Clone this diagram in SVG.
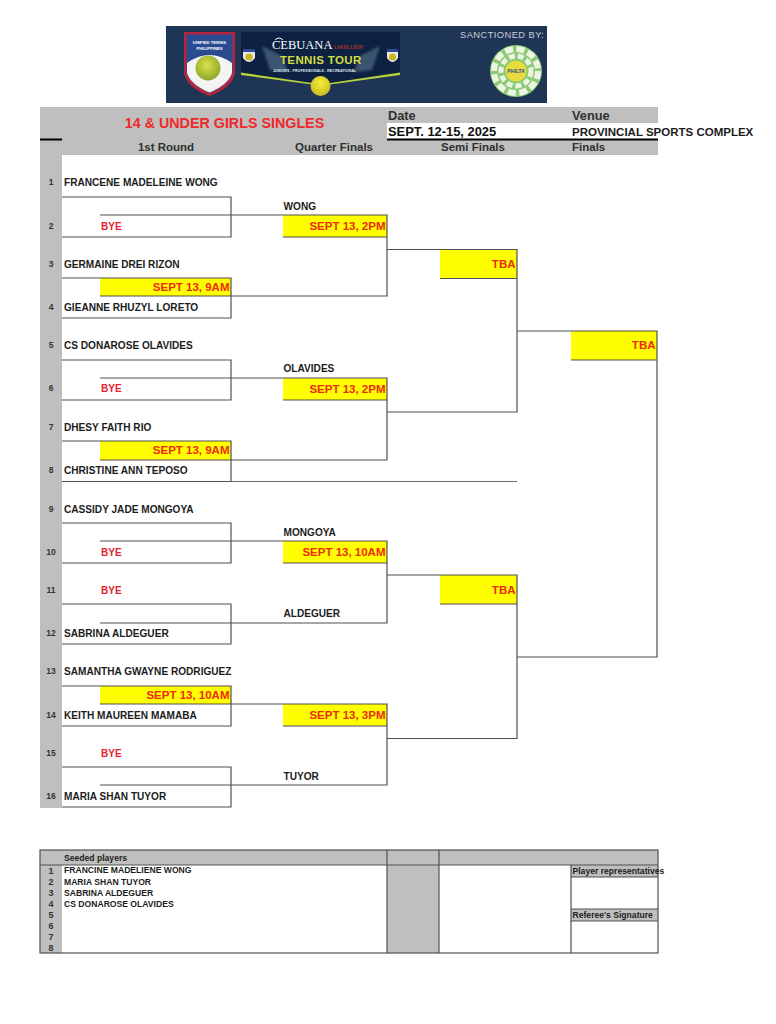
<svg xmlns="http://www.w3.org/2000/svg" width="776" height="1024" viewBox="0 0 776 1024">
<defs>
<radialGradient id="ball" cx="45%" cy="40%" r="60%"><stop offset="0" stop-color="#d8e24a"/><stop offset="1" stop-color="#8fa82a"/></radialGradient>
<radialGradient id="ball2" cx="50%" cy="35%" r="65%"><stop offset="0" stop-color="#f4ee3c"/><stop offset="1" stop-color="#c9b81e"/></radialGradient>
<filter id="soft" x="-5%" y="-5%" width="110%" height="110%"><feGaussianBlur stdDeviation="0.45"/></filter>
<filter id="soft2" x="-20%" y="-20%" width="140%" height="140%"><feGaussianBlur stdDeviation="1.2"/></filter>
</defs>
<style>
text{font-family:"Liberation Sans",Arial,sans-serif;font-weight:bold}
.g{fill:#bfbfbf}
.y{fill:#ffff00}
.ln{fill:none;stroke:#505050;stroke-width:1.2}
.thin{fill:none;stroke:#6a6a6a;stroke-width:1}
.n{font-size:8.5px;fill:#333;text-anchor:middle}
.p{font-size:10.1px;fill:#1c1c1c}
.bye{font-size:10px;fill:#e6202e}
.t{font-size:11.5px;fill:#ee2a12;text-anchor:end}
.h{font-size:11.500px;fill:#303030}
.hm{font-size:11.500px;fill:#303030;text-anchor:middle}
.s{font-size:8.600px;fill:#1c1c1c}
.sn{font-size:9px;fill:#333;text-anchor:middle}
</style>
<rect width="776" height="1024" fill="#fff"/>

<g id="banner">
<rect x="166" y="26" width="381" height="77" fill="#1f3556"/>
<g filter="url(#soft)">
<path d="M184 32H235V74Q231 88 209.500 96Q188 88 184 74Z" fill="#b3283c"/>
<path d="M186.500 34.500H232.500V73Q228 85 209.500 93Q191 85 186.500 73Z" fill="#2a4b92"/>
<path d="M187 63Q209.500 47 232 63V73Q228 85 209.500 92.500Q191 85 187 73Z" fill="#f4f4f4"/>
<circle cx="208" cy="68" r="12.500" fill="url(#ball)"/>
<path d="M241 32H400V73L330 84H312L241 73Z" fill="#0f2342"/>
<g filter="url(#soft2)" fill="#3a5470">
<path d="M262 46L282 56L288 72L270 70Z"/>
<path d="M380 46L360 56L354 72L372 70Z"/>
</g>
<path d="M241 72.500L312 83V84.500L241 75Z" fill="#b7d13c"/>
<path d="M400 72.500L330 83V84.500L400 75Z" fill="#b7d13c"/>
<path d="M243 49H255V58Q249 66 243 58Z" fill="#e7e7e7"/>
<path d="M387 49H398V58Q392.500 66 387 58Z" fill="#e7e7e7"/>
<path d="M243 49H255V52H243ZM387 49H398V52H387Z" fill="#2a4b92"/>
<circle cx="249" cy="57" r="3.500" fill="#c9b81e"/>
<circle cx="392.500" cy="57" r="3.500" fill="#c9b81e"/>
<circle cx="320.500" cy="86" r="10" fill="url(#ball2)"/>
<circle cx="516" cy="71" r="26" fill="#8ccb74"/>
<circle cx="516" cy="71" r="22" fill="none" stroke="#eef4e4" stroke-width="6" stroke-dasharray="8 3.500"/>
<circle cx="516" cy="71" r="15" fill="none" stroke="#eef4e4" stroke-width="5" stroke-dasharray="6 3"/>
<circle cx="516" cy="71" r="10.500" fill="#e8dc3c"/>
<path d="M275 40Q279 36 283 40" fill="none" stroke="#fff" stroke-width="1"/>
</g>
<text x="209.500" y="44" font-size="4.200" fill="#fff" text-anchor="middle">UNIFIED TENNIS</text>
<text x="209.500" y="49.500" font-size="4.200" fill="#fff" text-anchor="middle">PHILIPPINES</text>
<text x="272" y="49" font-size="12.500" fill="#fff" style="font-family:'Liberation Serif',serif;font-weight:normal">CEBUANA</text>
<text x="334" y="48.500" font-size="5.500" fill="#a8322c">LHUILLIER</text>
<text x="280" y="64" font-size="11.500" fill="#d3dd3e" letter-spacing=".35">TENNIS TOUR</text>
<text x="273" y="72" font-size="3.700" fill="#dfe4ea">JUNIORS . PROFESSIONALS . RECREATIONAL</text>
<text x="460" y="38" font-size="9.300" fill="#c9ced6" letter-spacing=".45" style="font-weight:normal">SANCTIONED BY:</text>
<text x="516" y="73" font-size="5" fill="#2a4b92" text-anchor="middle" font-style="italic">PHILTA</text>
</g>

<g id="header">
<rect class="g" x="40" y="107" width="347" height="48"/>
<rect class="g" x="387" y="107" width="271" height="16"/>
<rect class="g" x="387" y="140" width="271" height="15"/>
<rect class="g" x="40" y="155" width="22" height="653"/>
<path d="M40 139.500H62M387 139.500H658" fill="none" stroke="#000" stroke-width="2"/>
<text x="224.500" y="128" font-size="14.300" fill="#ee2a2a" text-anchor="middle">14 &amp; UNDER GIRLS SINGLES</text>
<text x="388" y="120" font-size="12.800" fill="#303030">Date</text>
<text x="572" y="120" font-size="12.800" fill="#303030">Venue</text>
<text x="388" y="136" font-size="12.900" fill="#111">SEPT. 12-15, 2025</text>
<text x="572" y="135.500" font-size="11.500" fill="#1c1c1c">PROVINCIAL SPORTS COMPLEX</text>
<text class="hm" x="166" y="151">1st Round</text>
<text class="hm" x="334" y="151">Quarter Finals</text>
<text class="hm" x="473" y="151">Semi Finals</text>
<text class="h" x="572" y="151">Finals</text>
</g>

<g id="yellow-cells">
<rect class="y" x="283" y="215" width="104" height="22"/>
<rect class="y" x="100" y="278" width="131" height="18"/>
<rect class="y" x="283" y="378" width="104" height="22"/>
<rect class="y" x="100" y="441" width="131" height="19"/>
<rect class="y" x="283" y="541" width="104" height="22"/>
<rect class="y" x="100" y="686" width="131" height="18"/>
<rect class="y" x="283" y="704" width="104" height="22"/>
<rect class="y" x="440" y="249.500" width="77" height="29"/>
<rect class="y" x="440" y="575" width="77" height="29"/>
<rect class="y" x="571" y="331" width="86" height="29"/>
</g>

<g id="connectors">
<path class="ln" d="M62 197H231V237H62M62 278H231V318H62M62 360H231V400H62M62 441H231V481.500H62M62 523H231V563H62M62 604H231V644H62M62 686H231V726H62M62 767H231V807H62"/>
<path class="ln" d="M100 215H387V296H100M100 378H387V460H100M100 541H387V623H100M100 704H387V785H100"/>
<path class="ln" d="M283 237H387M283 400H387M283 563H387M283 726H387"/>
<path class="ln" d="M387 249.500H517V412H387M387 575H517V738.500H387M440 278.500H517M440 604H517"/>
<path class="ln" d="M517 331H657V657H517M571 360H657"/>
<path class="thin" d="M231 481.500H517"/>
</g>

<g id="round1">
<g id="p1"><text class="n" x="51" y="185">1</text><text class="p" x="64" y="186">FRANCENE MADELEINE WONG</text></g>
<g id="p2"><text class="n" x="51" y="229">2</text><text class="bye" x="101" y="229.500">BYE</text></g>
<g id="p3"><text class="n" x="51" y="267">3</text><text class="p" x="64" y="267.500">GERMAINE DREI RIZON</text></g>
<g id="p4"><text class="n" x="51" y="310">4</text><text class="p" x="64" y="310.500">GIEANNE RHUZYL LORETO</text></g>
<g id="p5"><text class="n" x="51" y="348">5</text><text class="p" x="64" y="349">CS DONAROSE OLAVIDES</text></g>
<g id="p6"><text class="n" x="51" y="391">6</text><text class="bye" x="101" y="392">BYE</text></g>
<g id="p7"><text class="n" x="51" y="430">7</text><text class="p" x="64" y="430.500">DHESY FAITH RIO</text></g>
<g id="p8"><text class="n" x="51" y="473">8</text><text class="p" x="64" y="474">CHRISTINE ANN TEPOSO</text></g>
<g id="p9"><text class="n" x="51" y="512">9</text><text class="p" x="64" y="512.500">CASSIDY JADE MONGOYA</text></g>
<g id="p10"><text class="n" x="51" y="555">10</text><text class="bye" x="101" y="555.500">BYE</text></g>
<g id="p11"><text class="n" x="51" y="593">11</text><text class="bye" x="101" y="594">BYE</text></g>
<g id="p12"><text class="n" x="51" y="636">12</text><text class="p" x="64" y="637">SABRINA ALDEGUER</text></g>
<g id="p13"><text class="n" x="51" y="674">13</text><text class="p" x="64" y="675">SAMANTHA GWAYNE RODRIGUEZ</text></g>
<g id="p14"><text class="n" x="51" y="718">14</text><text class="p" x="64" y="718.500">KEITH MAUREEN MAMABA</text></g>
<g id="p15"><text class="n" x="51" y="756">15</text><text class="bye" x="101" y="756.500">BYE</text></g>
<g id="p16"><text class="n" x="51" y="799">16</text><text class="p" x="64" y="800">MARIA SHAN TUYOR</text></g>
</g>

<g id="schedule">
<text class="t" x="229.500" y="291">SEPT 13, 9AM</text>
<text class="t" x="229.500" y="454">SEPT 13, 9AM</text>
<text class="t" x="229.500" y="699">SEPT 13, 10AM</text>
<text class="t" x="385.500" y="230">SEPT 13, 2PM</text>
<text class="t" x="385.500" y="393">SEPT 13, 2PM</text>
<text class="t" x="385.500" y="556">SEPT 13, 10AM</text>
<text class="t" x="385.500" y="719">SEPT 13, 3PM</text>
<text class="t" x="515.500" y="268">TBA</text>
<text class="t" x="515.500" y="594">TBA</text>
<text class="t" x="655.500" y="349">TBA</text>
</g>

<g id="winners">
<text class="p" x="283.500" y="209.500">WONG</text>
<text class="p" x="283.500" y="372">OLAVIDES</text>
<text class="p" x="283.500" y="535.500">MONGOYA</text>
<text class="p" x="283.500" y="617">ALDEGUER</text>
<text class="p" x="283.500" y="780">TUYOR</text>
</g>

<g id="seed-table">
<rect class="g" x="40" y="850" width="618" height="15"/>
<rect class="g" x="40" y="865" width="22" height="88"/>
<rect class="g" x="387" y="865" width="52" height="88"/>
<rect class="g" x="571" y="865" width="87" height="12"/>
<rect class="g" x="571" y="909" width="87" height="12"/>
<rect class="ln" x="40" y="850" width="618" height="103"/>
<path class="ln" d="M40 865H658M387 850V953M439 850V953M571 865V953M571 877H658M571 909H658M571 921H658"/>
<text class="s" x="64" y="860.500">Seeded players</text>
<text class="sn" x="51" y="873.500">1</text><text class="s" x="64" y="873">FRANCINE MADELIENE WONG</text>
<text class="sn" x="51" y="885">2</text><text class="s" x="64" y="885">MARIA SHAN TUYOR</text>
<text class="sn" x="51" y="896">3</text><text class="s" x="64" y="896">SABRINA ALDEGUER</text>
<text class="sn" x="51" y="907">4</text><text class="s" x="64" y="906.500">CS DONAROSE OLAVIDES</text>
<text class="sn" x="51" y="918">5</text>
<text class="sn" x="51" y="929">6</text>
<text class="sn" x="51" y="940">7</text>
<text class="sn" x="51" y="950.500">8</text>
<text class="s" x="572.500" y="873.500">Player representatives</text>
<text class="s" x="572.500" y="918">Referee's Signature</text>
</g>
</svg>
